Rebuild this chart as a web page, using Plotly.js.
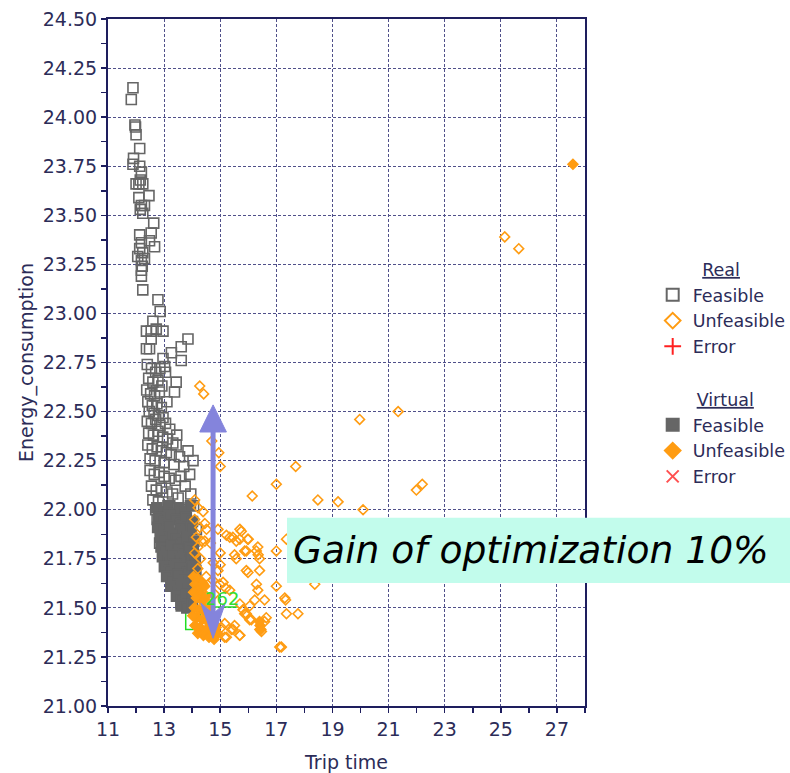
<!DOCTYPE html>
<html>
<head>
<meta charset="utf-8">
<script src="https://cdn.plot.ly/plotly-3.0.1.min.js"></script>
<style>
html,body{margin:0;padding:0;background:#fff;}
#chart{width:790px;height:773px;}
</style>
</head>
<body>
<div id="chart"></div>
<script>
// ---- data (Trip time, Energy_consumption) ----
const realFeasible = [
[11.89,24.15],[11.83,24.09],[11.96,23.96],[11.98,23.95],[12.00,23.91],[12.13,23.84],[11.91,23.79],[11.89,23.76],
[12.13,23.75],[12.19,23.72],[12.15,23.68],[12.10,23.66],[12.00,23.66],[12.24,23.66],[12.46,23.60],[12.10,23.59],
[12.19,23.55],[12.30,23.55],[12.15,23.53],[12.24,23.51],[12.63,23.46],[12.54,23.41],[12.13,23.40],[12.19,23.36],
[12.48,23.37],[12.66,23.34],[12.13,23.33],[12.24,23.31],[12.06,23.29],[12.30,23.28],[12.22,23.24],[12.19,23.27],
[12.19,23.22],[12.19,23.19],[12.24,23.12],[12.78,23.07],[12.86,23.01],[12.60,22.96],[12.37,22.91],[12.54,22.91],
[12.72,22.92],[12.96,22.91],[12.54,22.87],[12.37,22.82],[12.48,22.82],[13.85,22.87],[13.61,22.83],[13.26,22.80],
[12.96,22.77],[13.61,22.76],[13.02,22.73],[13.43,22.65],[13.37,22.60],[12.96,22.47],[13.31,22.34],[13.85,22.30],
[13.91,22.18],[14.03,22.25],[13.43,22.33],
[12.40,22.74],[12.55,22.72],[12.70,22.70],[12.85,22.72],[12.45,22.67],[12.60,22.65],[12.78,22.66],[12.92,22.63],
[12.38,22.61],[12.52,22.59],[12.66,22.58],[12.83,22.60],[12.42,22.55],[12.58,22.53],[12.74,22.54],[12.90,22.52],
[12.47,22.50],[12.64,22.49],[12.80,22.48],[13.10,22.55],[13.05,22.70],
[12.40,22.45],[12.55,22.44],[12.70,22.46],[12.85,22.43],[13.05,22.44],[13.20,22.41],[12.45,22.39],[12.62,22.38],
[12.78,22.40],[12.95,22.37],[13.12,22.36],[13.45,22.38],[12.42,22.33],[12.58,22.31],[12.75,22.32],[12.90,22.30],
[13.08,22.29],[13.25,22.28],[13.55,22.27],[12.50,22.26],[12.68,22.25],[13.00,22.24],[13.35,22.23],[13.70,22.22],
[12.50,22.20],[12.65,22.18],[12.82,22.19],[13.00,22.17],[13.18,22.16],[13.40,22.15],[13.60,22.17],[13.75,22.12],
[12.55,22.12],[12.72,22.10],[12.90,22.11],[13.10,22.09],[13.30,22.08],[13.50,22.06],[12.60,22.05],[12.80,22.04],
[13.95,22.08],[14.05,22.02],[13.20,22.02],[13.65,22.00],
[12.84,21.83],[12.75,21.95],[12.70,22.00],[14.15,21.90],[14.10,21.75],[14.20,21.60],[13.60,21.52]
];
const realUnfeasible = [
[14.27,22.63],[14.41,22.59],[21.34,22.50],[19.97,22.46],[14.70,22.35],[14.95,22.29],[15.00,22.22],[17.69,22.22],
[17.00,22.13],[16.14,22.07],[18.48,22.05],[19.20,22.04],[20.09,22.00],[21.99,22.10],[22.20,22.13],[25.14,23.39],
[25.64,23.33],[17.00,21.79],[15.98,21.85],[15.75,21.89],[15.22,21.87],[15.45,21.86],[15.57,21.84],[16.34,21.81],
[16.29,21.79],[15.87,21.79],[15.57,21.75],[16.40,21.75],[15.93,21.69],[15.99,21.68],[16.40,21.69],[17.00,21.61],
[16.29,21.62],[16.34,21.59],[16.23,21.54],[16.58,21.54],[17.30,21.55],[17.33,21.54],[17.36,21.47],[17.77,21.47],
[17.18,21.30],[16.64,21.45],[15.69,21.36],[15.22,21.35],[15.04,21.40],[15.40,21.39],[15.51,21.41],[15.87,21.47],
[16.05,21.44],[15.81,21.49],[18.37,21.62],
[14.09,22.05],[14.21,22.01],[14.39,21.99],[14.09,21.95],[14.27,21.91],[14.51,21.90],[14.15,21.86],[14.33,21.84],
[14.21,21.81],[14.09,21.78],[14.92,21.90],[15.34,21.86],[15.70,21.90],[15.70,21.85],[16.00,21.85],[15.51,21.77],
[15.93,21.79],[16.35,21.77],[17.36,21.85],[14.92,21.69],[14.74,21.64],[14.98,21.62],[15.34,21.59],[16.05,21.51],
[15.70,21.52],[14.30,21.75],[14.20,21.70],[14.50,21.66],[14.40,21.62],[14.80,21.57],[15.20,21.60],[15.10,21.63],
[15.16,21.42],[15.46,21.39],[15.70,21.36],[15.16,21.35],[15.93,21.47],[16.11,21.44],[16.58,21.43],[16.41,21.39],
[16.47,21.38],[17.12,21.30],[14.65,21.83],[15.00,21.78],[14.75,21.73],[15.00,21.72],[14.45,21.93],[14.45,21.84]
];
const realError = [[null,null]];
const virtualFeasible = [
[12.74,22.01],[12.96,21.99],[13.14,22.02],[13.37,21.98],[13.53,22.01],[13.77,21.99],[13.94,22.02],
[12.81,21.96],[13.02,21.94],[13.19,21.97],[13.42,21.95],[13.61,21.93],[13.79,21.96],[14.01,21.94],
[12.77,21.91],[12.99,21.89],[13.17,21.92],[13.39,21.88],[13.57,21.91],[13.80,21.89],[13.97,21.91],
[12.86,21.86],[13.04,21.84],[13.26,21.87],[13.44,21.85],[13.66,21.83],[13.84,21.86],[14.06,21.84],
[12.89,21.81],[13.09,21.79],[13.27,21.82],[13.49,21.80],[13.67,21.78],[13.89,21.81],[14.04,21.79],
[12.94,21.76],[13.16,21.74],[13.34,21.77],[13.56,21.75],[13.74,21.73],[13.96,21.76],[14.11,21.74],
[13.01,21.71],[13.19,21.69],[13.41,21.72],[13.59,21.70],[13.81,21.68],[13.99,21.71],[14.13,21.69],
[13.09,21.66],[13.31,21.64],[13.49,21.67],[13.71,21.65],[13.89,21.63],[14.11,21.66],
[13.24,21.61],[13.46,21.59],[13.64,21.62],[13.86,21.60],[14.04,21.58],[14.16,21.61],
[13.44,21.56],[13.63,21.54],[13.79,21.57],[13.99,21.55],[14.13,21.56],
[13.61,21.51],[13.81,21.50],[14.01,21.52]
];
const virtualUnfeasible = [
[14.05,21.66],[14.20,21.65],[14.35,21.63],[14.10,21.62],[14.25,21.60],[14.45,21.61],[14.05,21.58],[14.30,21.57],
[14.50,21.56],[14.15,21.55],[14.40,21.53],[14.60,21.52],[14.08,21.50],[14.25,21.49],[14.45,21.48],[14.65,21.47],
[14.15,21.45],[14.35,21.44],[14.55,21.43],[14.75,21.42],[14.10,21.41],[14.28,21.40],[14.50,21.39],[14.70,21.38],
[14.85,21.40],[14.40,21.36],[14.60,21.35],[14.78,21.34],[14.20,21.37],[14.90,21.37],[14.62,21.45],[14.02,21.46],
[16.42,21.41],[16.45,21.39],[16.40,21.43],[27.57,23.76]
];
const virtualError = [[null,null]];
const groupTitles = ['Real','Virtual'];
const seriesNames = ['Feasible','Unfeasible','Error'];
const xTitle = 'Trip time';
const yTitle = 'Energy_consumption';
const gainText = 'Gain of optimization 10%';
const selectedLabel = '262';

// ---- styling ----
const navy = '#1e1e5e';
const txt = '#2c2c58';
const grey = '#666666';
const orange = '#ff9c12';
const arrowCol = '#8484dc';
const NB = '\u00a0';
const titlePad = {real: NB.repeat(8), virtual: NB.repeat(7)};

const xs = a => a.map(p => p[0]);
const ys = a => a.map(p => p[1]);

function tr(data, name, group, rank, marker) {
  const t = group === 'real' ? groupTitles[0] : groupTitles[1];
  return {
    type: 'scatter', mode: 'markers', x: xs(data), y: ys(data), name: name,
    legendgroup: group, legendrank: rank,
    legendgrouptitle: {text: titlePad[group] + '<u>' + t + '</u>',
                       font: {size: 17.5, color: txt, family: 'DejaVu Sans'}},
    marker: marker, hoverinfo: 'x+y'
  };
}

const traces = [
  tr(realFeasible, seriesNames[0], 'real', 1, {symbol: 'square-open', size: 10, color: grey, line: {width: 1.6, color: grey}}),
  tr(virtualFeasible, seriesNames[0], 'virtual', 4, {symbol: 'square', size: 10, color: grey, line: {width: 1.6, color: grey}}),
  tr(realUnfeasible, seriesNames[1], 'real', 2, {symbol: 'diamond-open', size: 7.5, color: orange, line: {width: 1.6, color: orange}}),
  tr(virtualUnfeasible, seriesNames[1], 'virtual', 5, {symbol: 'diamond', size: 8, color: orange, line: {width: 1.2, color: orange}}),
  tr(realError, seriesNames[2], 'real', 3, {symbol: 'cross-thin-open', size: 12, color: '#ff2020', line: {width: 1.5, color: '#ff2020'}}),
  tr(virtualError, seriesNames[2], 'virtual', 6, {symbol: 'x-thin-open', size: 12, color: '#ff5050', line: {width: 1.5, color: '#ff5050'}})
];

const axisCommon = {
  showline: true, linecolor: navy, linewidth: 2, mirror: true,
  ticks: 'outside', ticklen: 5, tickwidth: 1.5, tickcolor: navy,
  showgrid: true, gridcolor: '#50508a', gridwidth: 1, griddash: '3px,2px',
  zeroline: false, tickfont: {family: 'DejaVu Sans', size: 19, color: txt},
  fixedrange: true, automargin: false
};

const layout = {
  width: 790, height: 773,
  margin: {l: 108, r: 205, t: 19, b: 67, pad: 0, autoexpand: false},
  paper_bgcolor: '#ffffff', plot_bgcolor: '#ffffff',
  showlegend: true,
  xaxis: Object.assign({}, axisCommon, {
    range: [11, 28], tick0: 11, dtick: 2,
    minor: {dtick: 1, ticks: 'outside', ticklen: 5, tickwidth: 1.5, tickcolor: navy, showgrid: false},
    title: {text: xTitle, font: {family: 'DejaVu Sans', size: 19, color: txt}, standoff: 18}
  }),
  yaxis: Object.assign({}, axisCommon, {
    range: [21, 24.5], tick0: 21, dtick: 0.25, tickformat: '.2f',
    minor: {dtick: 0.125, ticks: 'outside', ticklen: 5, tickwidth: 1.5, tickcolor: navy, showgrid: false},
    title: {text: yTitle, font: {family: 'DejaVu Sans', size: 19, color: txt}, standoff: 4}
  }),
  legend: {
    xref: 'container', yref: 'container',
    x: 0.8262, xanchor: 'left', y: 0.675, yanchor: 'top',
    font: {family: 'DejaVu Sans', size: 17.5, color: txt},
    traceorder: 'grouped', tracegroupgap: 27, itemsizing: 'constant',
    bgcolor: 'rgba(0,0,0,0)', borderwidth: 0
  },
  shapes: [
    // selection marker (green)
    {type: 'rect', xref: 'x', yref: 'y', x0: 13.77, x1: 14.29, y0: 21.39, y1: 21.505, layer: 'between',
     line: {color: '#22dd22', width: 1.5}},
    {type: 'line', xref: 'x', yref: 'y', x0: 14.29, x1: 15.63, y0: 21.505, y1: 21.505, layer: 'between',
     line: {color: '#22dd22', width: 1.5}},
    // double arrow
    {type: 'line', xref: 'x', yref: 'y', x0: 14.745, x1: 14.745, y0: 22.40, y1: 21.47,
     line: {color: arrowCol, width: 5}},
    {type: 'path', xref: 'x', yref: 'y', path: 'M 14.27,22.396 L 14.745,22.534 L 15.22,22.396 Z',
     fillcolor: arrowCol, line: {color: arrowCol, width: 1}},
    {type: 'path', xref: 'x', yref: 'y', path: 'M 14.31,21.524 L 14.745,21.345 L 15.18,21.524 L 14.745,21.47 Z',
     fillcolor: arrowCol, line: {color: arrowCol, width: 1}},
    // text box
    {type: 'rect', xref: 'paper', yref: 'paper', x0: 0.3753, x1: 1.43, y0: 0.179, y1: 0.274,
     fillcolor: '#c2fcec', line: {width: 0}, layer: 'above'}
  ],
  annotations: [
    {xref: 'paper', yref: 'paper', x: 0.384, y: 0.2265, xanchor: 'left', yanchor: 'middle',
     text: '<i>' + gainText + '</i>', showarrow: false,
     font: {family: 'DejaVu Sans', size: 37.6, color: '#000000'}},
    {xref: 'x', yref: 'y', x: 15.07, y: 21.548, xanchor: 'center', yanchor: 'middle',
     text: selectedLabel, showarrow: false, font: {family: 'DejaVu Sans', size: 18, color: '#33dd33'}}
  ]
};

Plotly.newPlot('chart', traces, layout, {displayModeBar: false, staticPlot: true});
</script>
</body>
</html>
